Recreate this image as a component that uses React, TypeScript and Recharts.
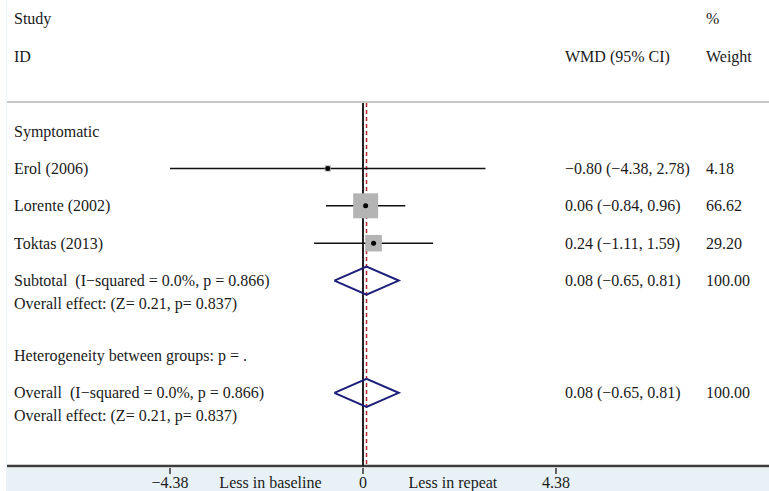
import React from 'react';
import { ComposedChart, XAxis, YAxis, Scatter, ReferenceLine } from 'recharts';

// ---------- data ----------
const studies = ['Erol (2006)', 'Lorente (2002)', 'Toktas (2013)'];
const estimates = [-0.8, 0.06, 0.24];
const lowers = [-4.38, -0.84, -1.11];
const uppers = [2.78, 0.96, 1.59];
const weights = [4.18, 66.62, 29.2];
const studyRows = [2, 3, 4];

const pooledLabels = ['Subtotal  (I\u2212squared = 0.0%, p = 0.866)', 'Overall  (I\u2212squared = 0.0%, p = 0.866)'];
const pooledEst = [0.08, 0.08];
const pooledLo = [-0.65, -0.65];
const pooledHi = [0.81, 0.81];
const pooledWeights = ['100.00', '100.00'];
const pooledRows = [5, 8];
const effectText = 'Overall effect: (Z= 0.21, p= 0.837)';
const effectRows = [5.615, 8.615];

const groupLabel = 'Symptomatic';
const heterogeneityText = 'Heterogeneity between groups: p = .';

const axisTicks = [-4.38, 0, 4.38];
const axisTickLabels = ['\u22124.38', '0', '4.38'];
const sideLabelValues = [-2.1, 2.04];
const sideLabelTexts = ['Less in baseline', 'Less in repeat'];

// ---------- layout ----------
const W = 769;
const H = 491;
const X_DOMAIN: [number, number] = [-8.2388, 9.2147];
const Y_DOMAIN: [number, number] = [-2.5027, 9.957];
const COL_LEFT = -7.921;
const COL_WMD = 4.585;
const COL_WEIGHT = 7.785;
const FONT = '"Liberation Serif", "Times New Roman", serif';
const FS = 16;

const fmt = (v: number) => (v < 0 ? '\u2212' + Math.abs(v).toFixed(2) : v.toFixed(2));

const leftTexts = [
  { x: COL_LEFT, y: 1, text: groupLabel },
  ...studies.map((s, i) => ({ x: COL_LEFT, y: studyRows[i], text: s })),
  ...pooledLabels.map((s, i) => ({ x: COL_LEFT, y: pooledRows[i], text: s })),
  ...effectRows.map((r) => ({ x: COL_LEFT, y: r, text: effectText })),
  { x: COL_LEFT, y: 7, text: heterogeneityText },
  { x: COL_LEFT, y: -2, text: 'Study' },
  { x: COL_LEFT, y: -1, text: 'ID' },
];
const wmdTexts = [
  { x: COL_WMD, y: -1, text: 'WMD (95% CI)' },
  ...studies.map((_, i) => ({
    x: COL_WMD,
    y: studyRows[i],
    text: `${fmt(estimates[i])} (${fmt(lowers[i])}, ${fmt(uppers[i])})`,
  })),
  ...pooledRows.map((r, i) => ({
    x: COL_WMD,
    y: r,
    text: `${fmt(pooledEst[i])} (${fmt(pooledLo[i])}, ${fmt(pooledHi[i])})`,
  })),
];
const weightTexts = [
  { x: COL_WEIGHT, y: -2, text: '%' },
  { x: COL_WEIGHT, y: -1, text: 'Weight' },
  ...weights.map((w, i) => ({ x: COL_WEIGHT, y: studyRows[i], text: w.toFixed(2) })),
  ...pooledRows.map((r, i) => ({ x: COL_WEIGHT, y: r, text: pooledWeights[i] })),
];

const studyPoints = studies.map((s, i) => ({ x: estimates[i], y: studyRows[i], w: weights[i] }));

const diamonds = pooledRows.map((r, i) => [
  { x: pooledLo[i], y: r },
  { x: pooledEst[i], y: r - 0.374 },
  { x: pooledHi[i], y: r },
  { x: pooledEst[i], y: r + 0.374 },
  { x: pooledLo[i], y: r },
]);

const TextShape = (props: any) => {
  const { cx, cy, payload } = props;
  return (
    <text
      x={cx}
      y={cy}
      dy="0.35em"
      fontFamily={FONT}
      fontSize={FS}
      fill="#1a1a1a"
      style={{ whiteSpace: 'pre' }}
      xmlSpace="preserve"
    >
      {payload.text}
    </text>
  );
};

const BoxShape = (props: any) => {
  const { cx, cy, payload } = props;
  const side = 3.06 * Math.sqrt(payload.w);
  return <rect x={cx - side / 2} y={cy - side / 2} width={side} height={side} fill="#b4b4b4" />;
};

const DotShape = (props: any) => <circle cx={props.cx} cy={props.cy} r={2.5} fill="#000" />;

const EmptyShape = () => <g />;

const AxisTick = (props: any) => {
  const { x, y, payload } = props;
  const v = payload.value;
  const ti = axisTicks.indexOf(v);
  const si = sideLabelValues.indexOf(v);
  const label = ti >= 0 ? axisTickLabels[ti] : si >= 0 ? sideLabelTexts[si] : '';
  return (
    <g>
      {ti >= 0 && <line x1={x} x2={x} y1={y} y2={y + 6} stroke="#333" strokeWidth={1.5} />}
      <text x={x} y={y + 20} textAnchor="middle" fontFamily={FONT} fontSize={FS} fill="#1a1a1a">
        {label}
      </text>
    </g>
  );
};

const allTicks = [...axisTicks, ...sideLabelValues].sort((a, b) => a - b);

export default function App() {
  return (
    <div style={{ position: 'absolute', left: 0, top: 0, width: W, height: H, background: '#ffffff' }}>
      <div style={{ position: 'absolute', left: 6, top: 468, width: W - 6, height: H - 468, background: '#e8f2f6' }} />
      <div style={{ position: 'absolute', left: 6, top: 0, width: 1, height: 468, background: '#eef5f8' }} />
      <div style={{ position: 'absolute', left: 0, top: 0 }}>
        <ComposedChart width={W} height={H} margin={{ top: 0, right: 0, bottom: 0, left: 0 }}>
          <XAxis
            type="number"
            dataKey="x"
            domain={X_DOMAIN}
            allowDataOverflow
            ticks={allTicks}
            interval={0}
            height={25}
            axisLine={false}
            tickLine={false}
            tickSize={0}
            tick={<AxisTick />}
          />
          <YAxis type="number" dataKey="y" domain={Y_DOMAIN} reversed hide allowDataOverflow />

          {/* header separator */}
          <ReferenceLine
            segment={[{ x: -8.08, y: 0.2246 }, { x: X_DOMAIN[1], y: 0.2246 }]}
            stroke="#c8c8c8"
            strokeWidth={2}
          />
          {/* axis line */}
          <ReferenceLine
            segment={[{ x: -8.08, y: Y_DOMAIN[1] }, { x: X_DOMAIN[1], y: Y_DOMAIN[1] }]}
            stroke="#3c3c3c"
            strokeWidth={2.5}
          />
          {/* null line */}
          <ReferenceLine
            segment={[{ x: 0, y: 0.2513 }, { x: 0, y: Y_DOMAIN[1] }]}
            stroke="#222"
            strokeWidth={2}
          />
          {/* pooled estimate dashed line */}
          <ReferenceLine
            segment={[{ x: pooledEst[0], y: 0.2513 }, { x: pooledEst[0], y: Y_DOMAIN[1] }]}
            stroke="#b02a2e"
            strokeWidth={1.5}
            strokeDasharray="4 3"
          />

          {/* boxes */}
          <Scatter data={studyPoints} shape={<BoxShape />} isAnimationActive={false} />

          {/* CI lines */}
          {studies.map((s, i) => (
            <ReferenceLine
              key={s}
              segment={[{ x: lowers[i], y: studyRows[i] }, { x: uppers[i], y: studyRows[i] }]}
              stroke="#111"
              strokeWidth={1.5}
            />
          ))}
          <Scatter data={studyPoints} shape={<DotShape />} isAnimationActive={false} />

          {/* diamonds */}
          {diamonds.map((d, i) => (
            <Scatter
              key={'d' + i}
              data={d}
              line={{ stroke: '#1b1f7a', strokeWidth: 2 }}
              lineType="joint"
              shape={<EmptyShape />}
              isAnimationActive={false}
            />
          ))}

          {/* text columns */}
          <Scatter data={leftTexts} shape={<TextShape />} isAnimationActive={false} />
          <Scatter data={wmdTexts} shape={<TextShape />} isAnimationActive={false} />
          <Scatter data={weightTexts} shape={<TextShape />} isAnimationActive={false} />
        </ComposedChart>
      </div>
    </div>
  );
}
